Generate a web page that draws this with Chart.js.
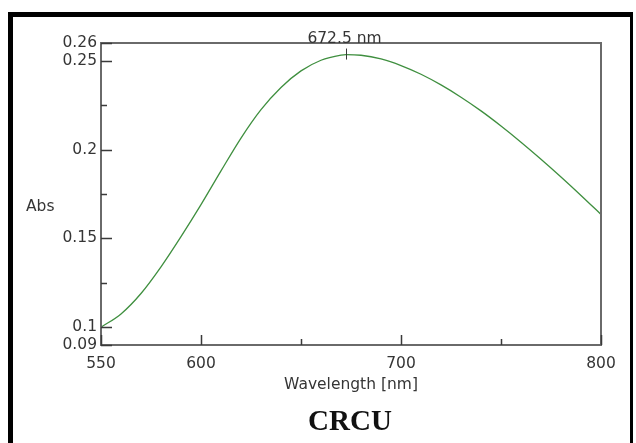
<!DOCTYPE html>
<html>
<head>
<meta charset="UTF-8">
<title>CRCU</title>
<script src="https://cdn.jsdelivr.net/npm/chart.js"></script>
<style>
    html, body { margin: 0; padding: 0; background: #fff; overflow: hidden; }
    #wrap { position: relative; width: 636px; height: 443px; }
    #frame {
        position: absolute; left: 8px; top: 12px; width: 617px; height: 460px;
        border-top: 5px solid #000; border-left: 5px solid #000; border-right: 3px solid #000;
        pointer-events: none;
    }
    canvas { position: absolute; left: 0; top: 0; }
</style>
</head>
<body>
<div id="wrap">
    <canvas id="spec" width="636" height="443"></canvas>
    <div id="frame"></div>
</div>
<script>
// spectrum
const wavelength = [550, 560, 570, 580, 590, 600, 610, 620, 630, 640, 650, 660, 670, 672.5,
                    680, 690, 700, 710, 720, 730, 740, 750, 760, 770, 780, 790, 800];
const absorbance = [0.1000, 0.1075, 0.1190, 0.1340, 0.1510, 0.1690, 0.1880, 0.2065, 0.2225, 0.2350, 0.2443, 0.2503, 0.2532, 0.2535,
                    0.2531, 0.2510, 0.2473, 0.2424, 0.2364, 0.2295, 0.2218, 0.2133, 0.2042, 0.1946, 0.1846, 0.1742, 0.1635];

const xTickValues = [550, 600, 650, 700, 750, 800];
const xTickLabels = ['550', '600', '', '700', '', '800'];
const yTickValues = [0.09, 0.1, 0.125, 0.15, 0.175, 0.2, 0.225, 0.25, 0.26];
const yTickLabels = ['0.09', '0.1', '', '0.15', '', '0.2', '', '0.25', '0.26'];

const peakX = 672.5;
const peakLabel = '672.5 nm';

const FONT = 'DejaVu Sans';
const TEXT = '#353535';

const decor = {
    id: 'decor',
    afterDraw(chart) {
        const ctx = chart.ctx;
        const a = chart.chartArea;
        const xs = chart.scales.x, ys = chart.scales.y;
        ctx.save();

        // plot frame
        ctx.strokeStyle = '#6a6a6a';
        ctx.lineWidth = 2;
        ctx.strokeRect(a.left, a.top, a.right - a.left, a.bottom - a.top);

        // inward ticks
        ctx.strokeStyle = '#3a3a3a';
        ctx.lineWidth = 1.5;
        ctx.beginPath();
        yTickValues.forEach((v, i) => {
            const y = Math.round(ys.getPixelForValue(v)) + 0.5;
            const len = yTickLabels[i] ? 11 : 6;
            ctx.moveTo(a.left, y);
            ctx.lineTo(a.left + len, y);
        });
        xTickValues.forEach((v, i) => {
            const x = Math.round(xs.getPixelForValue(v)) + 0.5;
            const len = xTickLabels[i] ? 10 : 6;
            ctx.moveTo(x, a.bottom);
            ctx.lineTo(x, a.bottom - len);
        });
        ctx.stroke();

        // peak marker
        const i = wavelength.indexOf(peakX);
        const px = Math.round(xs.getPixelForValue(peakX)) + 0.5;
        const py = ys.getPixelForValue(absorbance[i]);
        ctx.strokeStyle = '#3a3a3a';
        ctx.lineWidth = 1;
        ctx.beginPath();
        ctx.moveTo(px, py - 6);
        ctx.lineTo(px, py + 5);
        ctx.stroke();

        ctx.fillStyle = TEXT;
        ctx.font = '15.5px "' + FONT + '"';
        ctx.textAlign = 'center';
        ctx.textBaseline = 'alphabetic';
        ctx.fillText(peakLabel, px - 2, a.top);

        // axis titles
        ctx.textBaseline = 'middle';
        ctx.fillText('Wavelength [nm]', (a.left + a.right) / 2, 385);
        ctx.textAlign = 'left';
        ctx.fillText('Abs', 26, 207);

        // caption
        ctx.fillStyle = '#111';
        ctx.textAlign = 'center';
        ctx.font = 'bold 29px "Liberation Serif"';
        ctx.fillText('CRCU', 350, 423);
        ctx.restore();
    }
};

new Chart(document.getElementById('spec'), {
    type: 'line',
    data: {
        datasets: [{
            data: wavelength.map((w, k) => ({ x: w, y: absorbance[k] })),
            borderColor: '#3f8f3f',
            borderWidth: 1.3,
            pointRadius: 0,
            cubicInterpolationMode: 'monotone',
            fill: false
        }]
    },
    options: {
        responsive: false,
        devicePixelRatio: 1,
        animation: false,
        layout: { padding: { left: 0, top: 43, right: 35, bottom: 0 } },
        plugins: { legend: { display: false }, tooltip: { enabled: false } },
        scales: {
            x: {
                type: 'linear',
                min: 550, max: 800,
                afterFit: s => { s.height = 98; },
                afterBuildTicks: s => { s.ticks = xTickValues.map(v => ({ value: v })); },
                grid: { display: false, drawTicks: false },
                border: { display: false },
                ticks: {
                    autoSkip: false, maxRotation: 0, padding: 10,
                    color: TEXT, font: { family: FONT, size: 15.5 },
                    callback: (v, k) => xTickLabels[k]
                }
            },
            y: {
                min: 0.09, max: 0.26,
                afterFit: s => { s.width = 101; },
                afterBuildTicks: s => { s.ticks = yTickValues.map(v => ({ value: v })); },
                grid: { display: false, drawTicks: false },
                border: { display: false },
                ticks: {
                    autoSkip: false, padding: 4,
                    color: TEXT, font: { family: FONT, size: 15.5 },
                    callback: (v, k) => yTickLabels[k]
                }
            }
        }
    },
    plugins: [decor]
});
</script>
</body>
</html>
